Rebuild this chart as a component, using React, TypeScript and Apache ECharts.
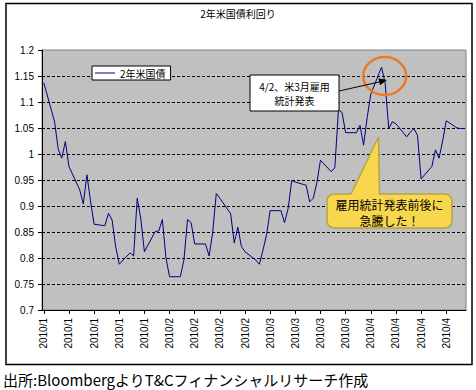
import React, { useEffect, useRef } from "react";
import * as echarts from "echarts";

// Axis runs day by day from 2010/1/1 to 2010/4/28 (weekends have no data)
const monthLengths = [31, 28, 31, 28];

const janDays = [1, 4, 5, 6, 7, 8, 11, 12, 13, 14, 15, 18, 19, 20, 21, 22, 25, 26, 27, 28, 29];
const janYield = [1.137, 1.062, 1.010, 0.992, 1.024, 0.976, 0.931, 0.904, 0.960, 0.910, 0.865, 0.862, 0.886, 0.873, 0.822, 0.788, 0.810, 0.804, 0.915, 0.875, 0.812];

const febDays = [1, 2, 3, 4, 5, 8, 9, 10, 11, 12, 15, 16, 17, 18, 19, 22, 23, 24, 25, 26];
const febYield = [0.851, 0.852, 0.874, 0.800, 0.764, 0.764, 0.796, 0.874, 0.868, 0.827, 0.827, 0.804, 0.849, 0.924, 0.915, 0.885, 0.829, 0.859, 0.822, 0.812];

const marDays = [1, 2, 3, 4, 5, 8, 9, 10, 11, 12, 15, 16, 17, 18, 19, 22, 23, 24, 25, 26, 29, 30, 31];
const marYield = [0.796, 0.788, 0.815, 0.845, 0.891, 0.891, 0.868, 0.895, 0.949, 0.946, 0.940, 0.908, 0.915, 0.945, 0.988, 0.966, 0.974, 1.085, 1.080, 1.041, 1.041, 1.055, 1.017];

const aprDays = [1, 2, 5, 6, 7, 8, 9, 12, 13, 14, 15, 16, 19, 20, 21, 22, 23, 26, 27, 28];
const aprYield = [1.070, 1.115, 1.167, 1.136, 1.049, 1.062, 1.058, 1.033, 1.042, 1.049, 1.036, 0.952, 0.976, 1.008, 0.992, 1.025, 1.064, 1.050, 1.049, 1.049];

const tradingDays = [janDays, febDays, marDays, aprDays];
const yields = [janYield, febYield, marYield, aprYield];

const seriesName = "2年米国債";
const titleText = "2年米国債利回り";
const noteText1 = "4/2、米3月雇用";
const noteText2 = "統計発表";
const calloutText1 = "雇用統計発表前後に";
const calloutText2 = "急騰した！";
const sourceText = "出所:BloombergよりT&Cフィナンシャルリサーチ作成";

const FONT = "'Noto Sans CJK JP', 'Noto Sans', sans-serif";
const NUMFONT = "'Liberation Sans', 'Noto Sans', sans-serif";

const calloutPath =
  "M335 194 L351 194 L378.5 137 L379.5 194 L444 194 Q452 194 452 202 L452 220 Q452 228 444 228 L335 228 Q327 228 327 220 L327 202 Q327 194 335 194 Z";
echarts.graphic.registerShape("callout", echarts.graphic.extendPath(calloutPath, {}));

function buildData() {
  const cats: string[] = [];
  const vals: (number | null)[] = [];
  monthLengths.forEach((len, m) => {
    const lookup = new Map<number, number>();
    tradingDays[m].forEach((d, k) => lookup.set(d, yields[m][k]));
    for (let d = 1; d <= len; d++) {
      cats.push(`2010/${m + 1}/${d}`);
      vals.push(lookup.has(d) ? (lookup.get(d) as number) : null);
    }
  });
  return { cats, vals };
}

export default function App() {
  const ref = useRef<HTMLDivElement>(null);
  useEffect(() => {
    if (!ref.current) return;
    const chart = echarts.init(ref.current, undefined, { renderer: "svg" });
    const { cats, vals } = buildData();
    chart.setOption({
      animation: false,
      title: {
        text: titleText,
        left: "center",
        top: 3,
        textStyle: { fontSize: 10, fontWeight: "normal", color: "#000", fontFamily: FONT },
      },
      legend: {
        data: [seriesName],
        left: 92,
        top: 66,
        icon: "rect",
        backgroundColor: "#fff",
        borderColor: "#000",
        borderWidth: 1,
        borderRadius: 0,
        padding: [2, 5, 2, 3],
        itemWidth: 20,
        itemHeight: 1,
        itemStyle: { color: "#000080" },
        textStyle: { fontSize: 10, color: "#000", fontFamily: FONT },
      },
      grid: {
        left: 42,
        right: 10,
        top: 50,
        bottom: 80,
        show: true,
        backgroundColor: "#C0C0C0",
        borderColor: "#808080",
        borderWidth: 1,
        containLabel: false,
        outerBoundsMode: "none",
      },
      xAxis: {
        type: "category",
        data: cats,
        boundaryGap: true,
        axisLine: { show: true, lineStyle: { color: "#000", width: 1 } },
        axisTick: { show: true, interval: 6, alignWithLabel: true, length: 4, lineStyle: { color: "#000" } },
        axisLabel: {
          interval: 6,
          rotate: 90,
          margin: 8,
          fontSize: 10,
          color: "#000",
          fontFamily: NUMFONT,
          formatter: (v: string) => v.split("/").slice(0, 2).join("/"),
        },
        splitLine: { show: false },
      },
      yAxis: {
        type: "value",
        min: 0.7,
        max: 1.2,
        interval: 0.05,
        axisLine: { show: true, lineStyle: { color: "#000", width: 1 } },
        axisTick: { show: true, length: 4, lineStyle: { color: "#000" } },
        axisLabel: {
          margin: 8,
          fontSize: 10,
          color: "#000",
          fontFamily: NUMFONT,
          formatter: (v: number) => String(Math.round(v * 100) / 100),
        },
        splitLine: {
          show: true,
          showMinLine: false,
          showMaxLine: false,
          lineStyle: { color: "#000", width: 1, type: [3, 2] },
        },
      },
      series: [
        {
          name: seriesName,
          type: "line",
          data: vals,
          connectNulls: true,
          symbol: "none",
          showSymbol: false,
          lineStyle: { color: "#000080", width: 1 },
          itemStyle: { color: "#000080" },
          emphasis: { disabled: true },
        },
      ],
      graphic: [
        {
          type: "rect",
          silent: true,
          shape: { x: 6, y: 3.5, width: 466, height: 361 },
          style: { fill: "none", stroke: "#000", lineWidth: 1.5 },
        },
        {
          type: "rect",
          z: 100,
          shape: { x: 250, y: 75, width: 89, height: 36 },
          style: { fill: "#fff", stroke: "#000", lineWidth: 1 },
        },
        {
          type: "text",
          z: 101,
          x: 294.5,
          y: 86.5,
          style: { text: noteText1, fill: "#000", fontSize: 10, fontFamily: FONT, align: "center", verticalAlign: "middle" },
        },
        {
          type: "text",
          z: 101,
          x: 294.5,
          y: 100,
          style: { text: noteText2, fill: "#000", fontSize: 10, fontFamily: FONT, align: "center", verticalAlign: "middle" },
        },
        {
          type: "line",
          z: 101,
          shape: { x1: 339, y1: 91, x2: 380, y2: 81.8 },
          style: { stroke: "#000", lineWidth: 1 },
        },
        {
          type: "polygon",
          z: 101,
          shape: { points: [[387, 80], [380, 85.2], [378.4, 78.3]] },
          style: { fill: "#000" },
        },
        {
          type: "ellipse",
          z: 100,
          shape: { cx: 384.7, cy: 76, rx: 21.5, ry: 19 },
          style: { fill: "none", stroke: "#F07A22", lineWidth: 2.5 },
        },
        {
          type: "callout",
          z: 100,
          x: 0,
          y: 0,
          style: { fill: "#F8D74E", stroke: "#B5A24A", lineWidth: 1.5 },
        },
        {
          type: "text",
          z: 101,
          x: 389.5,
          y: 204,
          style: { text: calloutText1, fill: "#000", fontSize: 12, fontFamily: FONT, align: "center", verticalAlign: "middle" },
        },
        {
          type: "text",
          z: 101,
          x: 389.5,
          y: 220,
          style: { text: calloutText2, fill: "#000", fontSize: 12, fontFamily: FONT, align: "center", verticalAlign: "middle" },
        },
        {
          type: "text",
          z: 101,
          x: 3,
          y: 379,
          style: { text: sourceText, fill: "#000", fontSize: 15, fontFamily: FONT, align: "left", verticalAlign: "middle" },
        },
      ],
    });
    return () => chart.dispose();
  }, []);
  return (
    <div
      ref={ref}
      style={{ position: "absolute", left: 0, top: 0, width: 476, height: 390, background: "#fff" }}
    />
  );
}
